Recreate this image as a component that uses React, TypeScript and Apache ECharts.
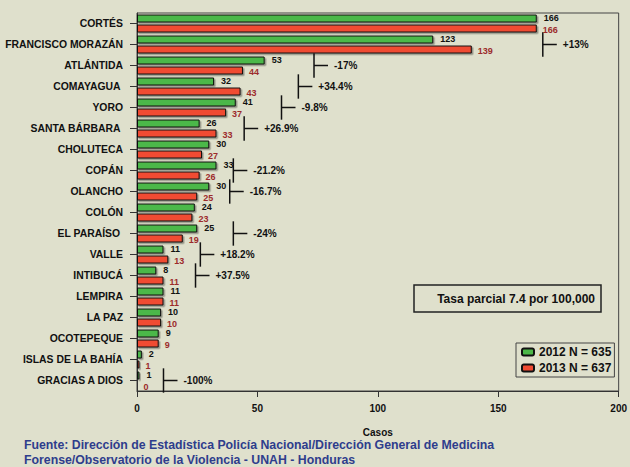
import React, { useEffect, useRef } from "react";
import * as echarts from "echarts";

const categories = [
  "CORTÉS",
  "FRANCISCO MORAZÁN",
  "ATLÁNTIDA",
  "COMAYAGUA ",
  "YORO",
  "SANTA BÁRBARA ",
  "CHOLUTECA",
  "COPÁN",
  "OLANCHO",
  "COLÓN",
  "EL PARAÍSO ",
  "VALLE",
  "INTIBUCÁ",
  "LEMPIRA",
  "LA PAZ",
  "OCOTEPEQUE",
  "ISLAS DE LA BAHÍA",
  "GRACIAS A DIOS",
];
const values2012 = [166, 123, 53, 32, 41, 26, 30, 33, 30, 24, 25, 11, 8, 11, 10, 9, 2, 1];
const values2013 = [166, 139, 44, 43, 37, 33, 27, 26, 25, 23, 19, 13, 11, 11, 10, 9, 1, 0];

const changeIndex = [1, 2, 3, 4, 5, 7, 8, 10, 11, 12, 17];
const changeAt = [168.5, 73.5, 67, 60, 44.5, 40, 38.5, 40, 26.3, 24.3, 11];
const changeLabels = ["+13%", "-17%", "+34.4%", "-9.8%", "+26.9%", "-21.2%", "-16.7%", "-24%", "+18.2%", "+37.5%", "-100%"];

const seriesNames = ["2012 N = 635", "2013 N = 637"];
const xTicks = { min: 0, max: 200, interval: 50 };
const rateText = "Tasa parcial 7.4 por 100,000";
const sourceLines = [
  "Fuente: Dirección de Estadística Policía Nacional/Dirección General de Medicina",
  "Forense/Observatorio de la Violencia - UNAH - Honduras",
];

const FONT = '"Liberation Sans", Arial, sans-serif';
const BG = "#dfe0cc";
const GREEN = "#4cb848";
const RED = "#f04b32";

export default function App() {
  const ref = useRef<HTMLDivElement>(null);
  useEffect(() => {
    if (!ref.current) return;
    document.body.style.margin = "0";
    document.body.style.background = BG;
    const chart = echarts.init(ref.current, undefined, { renderer: "svg" });
    const barStyle = (color: string) => ({
      color,
      borderColor: "#111",
      borderWidth: 1,
      shadowColor: "rgba(0,0,0,0.35)",
      shadowOffsetX: 1.5,
      shadowOffsetY: 1.5,
      shadowBlur: 1,
    });
    chart.setOption({
      animation: false,
      backgroundColor: BG,
      textStyle: { fontFamily: FONT },
      grid: {
        left: 137,
        right: 8,
        top: 13,
        bottom: 76,
        show: true,
        borderColor: "#444",
        borderWidth: 1,
        backgroundColor: "transparent",
      },
      legend: {
        orient: "vertical",
        left: 516,
        top: 343,
        data: seriesNames,
        backgroundColor: "transparent",
        borderColor: "#444",
        borderWidth: 1,
        padding: [3, 3, 3, 5],
        itemGap: 4,
        itemWidth: 12,
        itemHeight: 7,
        textStyle: { fontSize: 12, fontWeight: "bold", color: "#111", fontFamily: FONT },
      },
      xAxis: {
        type: "value",
        min: xTicks.min,
        max: xTicks.max,
        interval: xTicks.interval,
        name: "Casos",
        nameLocation: "middle",
        nameGap: 36,
        nameTextStyle: { fontSize: 10, fontWeight: "bold", color: "#111", fontFamily: FONT },
        axisLine: { show: true, lineStyle: { color: "#333", width: 1 } },
        axisTick: { show: true, length: 6, lineStyle: { color: "#333" } },
        axisLabel: { fontSize: 10, fontWeight: "bold", color: "#111", margin: 12 },
        splitLine: { show: false },
      },
      yAxis: {
        type: "category",
        data: categories,
        inverse: true,
        axisLine: { show: true, lineStyle: { color: "#333", width: 1 } },
        axisTick: { show: true, alignWithLabel: true, length: 7, lineStyle: { color: "#333" } },
        axisLabel: { fontSize: 10.4, fontWeight: "bold", color: "#111", margin: 14 },
      },
      graphic: [
        {
          type: "rect",
          shape: { x: 414, y: 285, width: 187, height: 27 },
          style: { fill: "transparent", stroke: "#222", lineWidth: 1.5 },
        },
        {
          type: "text",
          x: 595,
          y: 298.5,
          style: {
            text: rateText,
            font: `bold 12px ${FONT}`,
            fill: "#111",
            align: "right",
            verticalAlign: "middle",
          },
        },
        {
          type: "text",
          x: 24,
          y: 445,
          style: {
            text: sourceLines[0],
            font: `bold 12.3px ${FONT}`,
            fill: "#2e3d8c",
            verticalAlign: "middle",
          },
        },
        {
          type: "text",
          x: 24,
          y: 460,
          style: {
            text: sourceLines[1],
            font: `bold 12.3px ${FONT}`,
            fill: "#2e3d8c",
            verticalAlign: "middle",
          },
        },
      ],
      series: [
        {
          name: seriesNames[0],
          type: "bar",
          data: values2012,
          barWidth: 8,
          barGap: "25%",
          itemStyle: barStyle(GREEN),
          label: {
            show: true,
            position: "right",
            distance: 7,
            offset: [0, -1],
            fontSize: 9,
            fontWeight: "bold",
            color: "#111",
            fontFamily: FONT,
          },
        },
        {
          name: seriesNames[1],
          type: "bar",
          data: values2013,
          barWidth: 8,
          barGap: "25%",
          itemStyle: barStyle(RED),
          label: {
            show: true,
            position: "right",
            distance: 6,
            offset: [0, 1],
            fontSize: 9,
            fontWeight: "bold",
            color: "#9c2b2b",
            fontFamily: FONT,
          },
        },
        {
          type: "custom",
          name: "change",
          silent: true,
          encode: { x: 0, y: 1 },
          data: changeIndex.map((ci, i) => [changeAt[i], ci]),
          renderItem: (params: any, api: any) => {
            const p = api.coord([api.value(0), api.value(1)]);
            const band = api.size([0, 1])[1];
            const half = band * 0.58;
            return {
              type: "group",
              children: [
                {
                  type: "line",
                  shape: { x1: p[0], y1: p[1] - half, x2: p[0], y2: p[1] + half },
                  style: { stroke: "#111", lineWidth: 1.5 },
                },
                {
                  type: "line",
                  shape: { x1: p[0], y1: p[1], x2: p[0] + 14, y2: p[1] },
                  style: { stroke: "#111", lineWidth: 1.5 },
                },
                {
                  type: "text",
                  x: p[0] + 20,
                  y: p[1],
                  style: {
                    text: changeLabels[params.dataIndex],
                    font: `bold 10px ${FONT}`,
                    fill: "#111",
                    verticalAlign: "middle",
                  },
                },
              ],
            };
          },
        },
      ],
    });
    return () => chart.dispose();
  }, []);
  return <div ref={ref} style={{ width: 630, height: 467, background: BG }} />;
}
